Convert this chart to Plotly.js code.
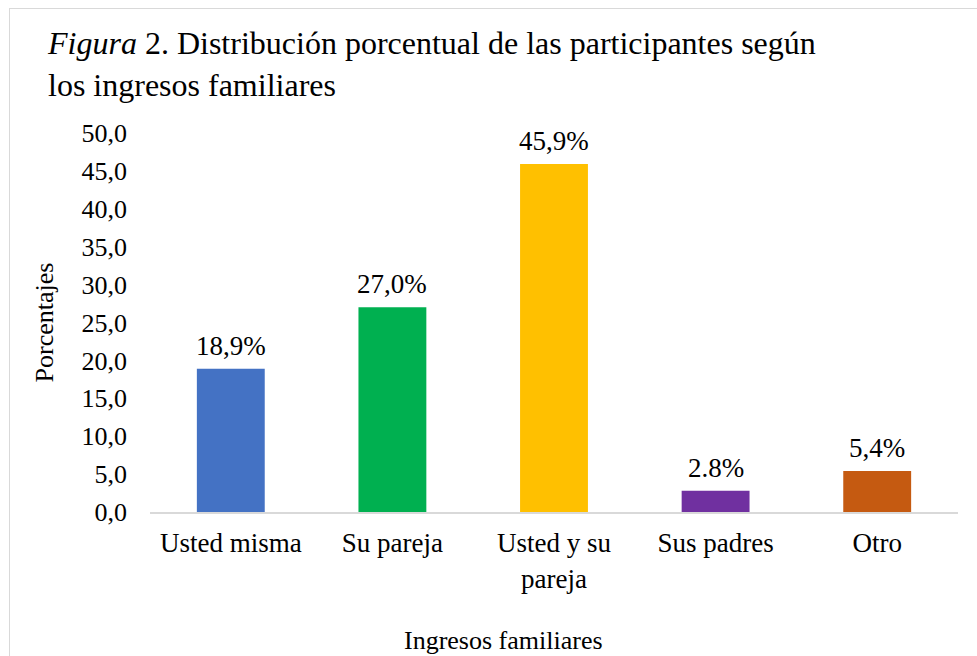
<!DOCTYPE html>
<html><head><meta charset="utf-8">
<script src="https://cdn.plot.ly/plotly-3.0.1.min.js"></script>
<style>
html,body{margin:0;padding:0;background:#fff;overflow:hidden;}
#chart{width:977px;height:656px;}
#frame{position:absolute;left:9px;top:8px;width:990px;height:670px;border:1px solid #d9d9d9;pointer-events:none;}
</style></head>
<body>
<div id="chart"></div>
<div id="frame"></div>
<script>
const categories = ["Usted misma", "Su pareja", "Usted y su<br>pareja", "Sus padres", "Otro"];
const values = [18.9, 27.0, 45.9, 2.8, 5.4];
const valueLabels = ["18,9%", "27,0%", "45,9%", "2.8%", "5,4%"];
const barColors = ["#4472C4", "#00B050", "#FFC000", "#7030A0", "#C55A11"];
const yTicks = [0, 5, 10, 15, 20, 25, 30, 35, 40, 45, 50];

const font = "Liberation Serif, Times New Roman, serif";

const trace = {
  type: "bar",
  x: categories,
  y: values,
  marker: {color: barColors},
  width: 0.42,
  hoverinfo: "skip"
};

const labelAnnotations = categories.map((c, i) => ({
  x: c, y: values[i], xref: "x", yref: "y",
  text: valueLabels[i],
  showarrow: false, xanchor: "center", yanchor: "bottom", yshift: 6,
  font: {family: font, size: 27, color: "#000"}
}));

const layout = {
  width: 977, height: 656,
  paper_bgcolor: "#fff", plot_bgcolor: "#fff",
  separators: ",.",
  margin: {l: 150, r: 19, t: 133, b: 144},
  font: {family: font, color: "#000"},
  showlegend: false,
  title: {
    text: "<i>Figura</i> 2. Distribución porcentual de las participantes según<br>los ingresos familiares",
    font: {family: font, size: 32, color: "#000"},
    xref: "container", yref: "container",
    x: 48/977, xanchor: "left",
    y: 1 - 54/656, yanchor: "top"
  },
  xaxis: {
    showline: true, linecolor: "#d9d9d9", linewidth: 2,
    showgrid: false, zeroline: false,
    ticks: "", tickfont: {family: font, size: 27, color: "#000"},
    ticklabelstandoff: 6,
    automargin: false
  },
  yaxis: {
    range: [0, 50],
    tickvals: yTicks,
    tickformat: ".1f",
    showgrid: false, zeroline: false, showline: false,
    ticks: "", tickfont: {family: font, size: 26, color: "#000"},
    ticklabelstandoff: 22,
    automargin: false,
    title: {text: "Porcentajes", font: {family: font, size: 26, color: "#000"}, standoff: 20}
  },
  annotations: labelAnnotations.concat([{
    text: "Ingresos familiares",
    xref: "paper", yref: "paper",
    x: (503-150)/808, y: -(640-512)/379,
    xanchor: "center", yanchor: "middle",
    showarrow: false,
    font: {family: font, size: 26, color: "#000"}
  }])
};

Plotly.newPlot("chart", [trace], layout, {displayModeBar: false, staticPlot: true});
</script>
</body></html>
